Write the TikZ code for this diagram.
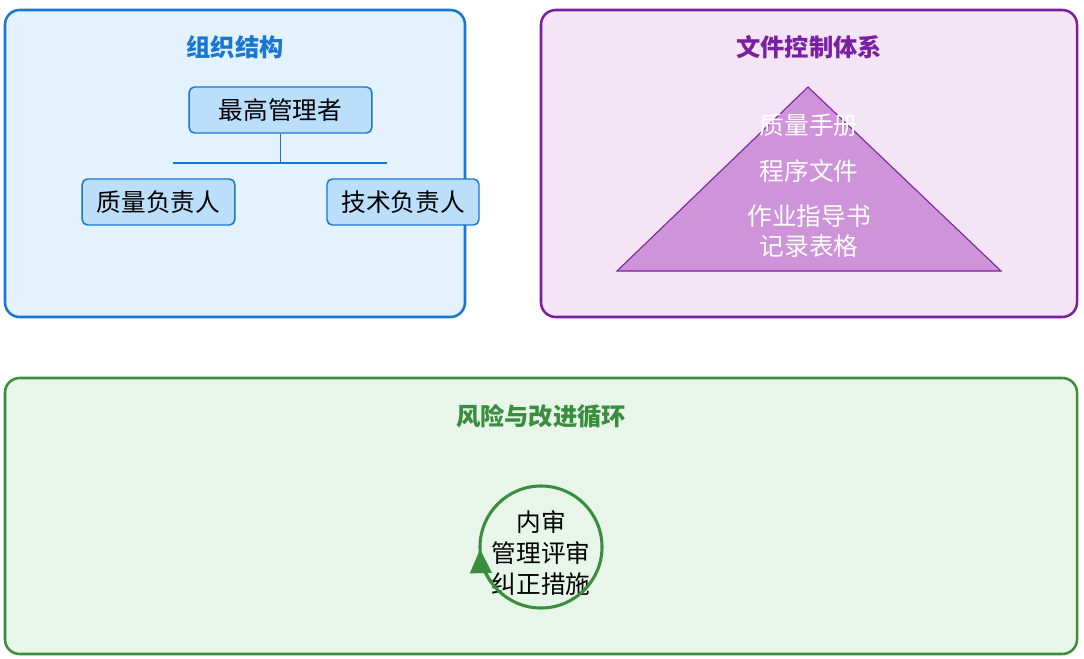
\documentclass[tikz,border=0pt]{standalone}
\usepackage{fontspec}
\setmainfont{Noto Sans CJK SC}
\usetikzlibrary{arrows.meta}

\begin{document}
\begin{tikzpicture}[x=0.75pt, y=-0.75pt,
    panel/.style={rounded corners=11pt, line width=1.9pt},
    heading/.style={font=\fontsize{18.2}{21}\selectfont\bfseries},
    rolebox/.style={draw=orgBorder, fill=orgBox, line width=1.1pt, rounded corners=4pt,
                    minimum height=34.5pt, font=\fontsize{18.5}{22}\selectfont},
    doclabel/.style={text=white, align=center, font=\fontsize{18.5}{22.5}\selectfont},
    loopline/.style={draw=cycleBorder, line width=2.3pt}]
    % Define colours
    \definecolor{orgBorder}{HTML}{1976D2}
    \definecolor{orgFill}{HTML}{E3F2FD}
    \definecolor{orgBox}{HTML}{BBDEFB}
    \definecolor{docBorder}{HTML}{7B1FA2}
    \definecolor{docFill}{HTML}{F3E5F5}
    \definecolor{docTri}{HTML}{CE93D8}
    \definecolor{cycleBorder}{HTML}{388E3C}
    \definecolor{cycleFill}{HTML}{E8F5E9}

    % Fix picture size
    \useasboundingbox (0,0) rectangle (1084,659);

    % Draw the three panels
    \filldraw[panel, draw=orgBorder, fill=orgFill] (5,10) rectangle (465,317);
    \filldraw[panel, draw=docBorder, fill=docFill] (541,10) rectangle (1077,317);
    \filldraw[panel, draw=cycleBorder, fill=cycleFill] (5,378) rectangle (1077,654);

    % Panel titles
    \node[heading, text=orgBorder] (orgTitle) at (235,47) {组织结构};
    \node[heading, text=docBorder] (docTitle) at (809,47) {文件控制体系};
    \node[heading, text=cycleBorder] (cycleTitle) at (541,416) {风险与改进循环};

    % Organisation chart
    \node[rolebox, minimum width=137pt] (top) at (280.5,110) {最高管理者};
    \node[rolebox, minimum width=114.5pt] (quality) at (158.5,202) {质量负责人};
    \node[rolebox, minimum width=114pt] (tech) at (403,202) {技术负责人};
    \coordinate (busL) at (173,163);
    \coordinate (busR) at (387,163);
    \draw[orgBorder, line width=1.1pt] (top.south) -- (top.south |- busL);
    \draw[orgBorder, line width=1.1pt] (busL) -- (busR);

    % Document pyramid
    \coordinate (apex) at (808,87);
    \coordinate (baseR) at (1001,271);
    \coordinate (baseL) at (617,271);
    \filldraw[fill=docTri, draw=docBorder, line width=0.8pt] (apex) -- (baseR) -- (baseL) -- cycle;
    \node[doclabel] (manual) at (809,125) {质量手册};
    \node[doclabel] (procedure) at (809,171) {程序文件};
    \node[doclabel] (records) at (809,231) {作业指导书\\记录表格};

    % Improvement cycle
    \node[align=center, inner sep=0pt, font=\fontsize{18.5}{23}\selectfont] (loop) at (541,553) {内审\\管理评审\\纠正措施};
    \coordinate (hub) at (541,547);
    \draw[loopline] (hub) circle[radius=61];
    \draw[loopline, -{Triangle[length=18pt, width=16pt]}] (hub) ++(145:61) arc[start angle=145, end angle=178, radius=61];

\end{tikzpicture}
\end{document}
